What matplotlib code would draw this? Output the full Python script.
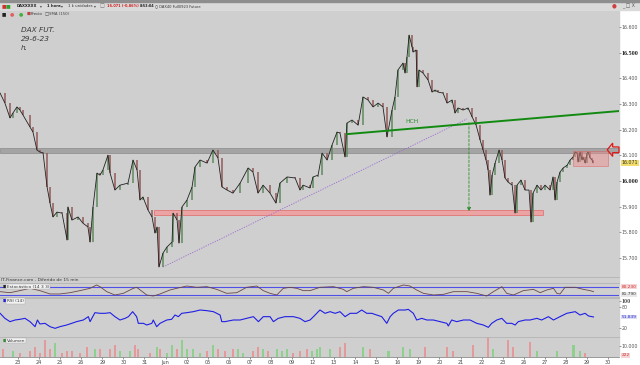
import numpy as np
import matplotlib.pyplot as plt
from matplotlib.patches import Rectangle, FancyArrow
from matplotlib.transforms import blended_transform_factory

# x axis unit = trading day, 0 = 23 May (hourly DAX future)
day_labels = ['23', '24', '25', '26', '29', '30', '31', 'Jun', '02', '05', '06', '07', '08', '09',
              '12', '13', '14', '15', '16', '19', '20', '21', '22', '23', '26', '27', '28', '29', '30']

price_t = [-0.85, -0.62, -0.38, -0.24, -0.05, 0.09, 0.24, 0.57, 0.71, 0.90, 1.04, 1.19, 1.38, 1.52,
           1.66, 1.85, 2.09, 2.33, 2.37, 2.56, 2.85, 3.08, 3.32, 3.42, 3.56, 3.75, 3.89, 4.03, 4.27,
           4.37, 4.60, 4.84, 5.22, 5.46, 5.65, 5.79, 5.93, 6.17, 6.36, 6.50, 6.60, 6.69, 6.88, 7.07,
           7.31, 7.36, 7.55, 7.64, 7.78, 8.02, 8.26, 8.40, 8.64, 8.97, 9.25, 9.49, 9.68, 9.92, 10.20,
           10.54, 10.92, 11.15, 11.39, 11.63, 11.96, 12.24, 12.43, 12.77, 13.15, 13.38, 13.53, 13.86,
           14.00, 14.24, 14.43, 14.67, 14.90, 15.14, 15.28, 15.52, 15.61, 15.85, 16.14, 16.37, 16.61,
           16.85, 17.09, 17.32, 17.51, 17.75, 17.89, 18.03, 18.27, 18.37, 18.46, 18.56, 18.70, 18.75,
           18.89, 18.94, 19.03, 19.22, 19.46, 19.65, 19.79, 19.93, 20.17, 20.36, 20.60, 20.74, 20.88,
           21.12, 21.36, 21.55, 21.74, 21.93, 22.07, 22.21, 22.31, 22.40, 22.50, 22.64, 22.83, 22.97,
           23.11, 23.26, 23.45, 23.59, 23.68, 23.87, 24.06, 24.25, 24.35, 24.44, 24.63, 24.82, 25.01,
           25.25, 25.39, 25.49, 25.58, 25.72, 25.87, 26.06, 26.20, 26.34, 26.44, 26.53, 26.58, 26.67,
           26.77, 26.81, 26.92, 27.01, 27.05, 27.15, 27.24, 27.29]
price = [16343, 16304, 16246, 16265, 16289, 16277, 16257, 16211, 16191, 16121, 16113, 16109, 15977, 15914,
         15860, 15879, 15875, 15770, 15899, 15848, 15860, 15836, 15821, 15762, 15899, 16031, 16023, 16043, 16101,
         16031, 15965, 15984, 15992, 16082, 16043, 15926, 15938, 15887, 15860, 15797, 15821, 15665, 15719, 15743,
         15762, 15875, 15848, 15758, 15899, 15926, 15977, 16055, 16082, 16070, 16121, 16090, 15977, 15965, 15953,
         15992, 16051, 16035, 15953, 15984, 15953, 15914, 15992, 16016, 16012, 15965, 15984, 15973,
         16016, 16023, 16109, 16082, 16140, 16191, 16187, 16094, 16226, 16238, 16218, 16328, 16316,
         16289, 16304, 16289, 16172, 16277, 16328, 16433, 16460, 16421, 16484, 16569, 16523, 16503,
         16511, 16367, 16433, 16421, 16394, 16347, 16355, 16347, 16343, 16304, 16316, 16265, 16285,
         16277, 16285, 16250, 16218, 16160, 16121, 16082, 16043, 15945, 16023, 16070, 16121, 16082,
         16012, 15996, 15984, 15875, 15984, 16004, 15965, 15965, 15840, 15953, 15984, 15965, 15984,
         15965, 16016, 15926, 15996, 16035, 16051, 16062, 16082, 16094, 16113, 16109, 16074, 16113,
         16082, 16094, 16070, 16109, 16113, 16090, 16082, 16071]

stoch_t = [-0.85, -0.38, 0.09, 0.57, 1.04, 1.52, 1.99, 2.47, 2.94, 3.42, 3.73, 3.89, 4.21, 4.60, 5.00,
           5.47, 5.63, 6.11, 6.42, 6.74, 7.21, 7.53, 8.01, 8.48, 8.96, 9.43, 9.90, 10.38, 10.85, 11.33,
           11.64, 11.96, 12.28, 12.59, 12.91, 13.23, 13.54, 13.86, 14.18, 14.33, 14.97, 15.44, 15.60,
           15.91, 16.39, 16.86, 17.34, 17.58, 17.81, 18.29, 18.60, 18.92, 19.24, 19.71, 20.19, 20.66,
           21.30, 21.77, 22.24, 22.56, 22.96, 23.19, 23.51, 23.98, 24.46, 24.78, 25.09, 25.41, 25.57,
           25.72, 25.96, 26.44, 26.83, 27.15, 27.31]
stoch = [46, 38, 54, 72, 54, 28, 28, 38, 54, 72, 98, 85, 46, 20, 33,
         72, 80, 20, 12, 28, 59, 72, 90, 80, 85, 64, 33, 38, 80, 90,
         54, 33, 20, 72, 80, 72, 54, 54, 72, 80, 85, 64, 46,
         72, 85, 80, 59, 33, 72, 98, 90, 59, 33, 20, 25, 46,
         46, 33, 12, 46, 85, 33, 20, 54, 64, 38, 59, 72, 33,
         28, 80, 80, 64, 54, 46]

rsi_t = [-0.85, -0.62, -0.38, -0.14, 0.09, 0.33, 0.57, 0.81, 0.92, 1.04, 1.28, 1.52, 1.76, 1.99, 2.31,
         2.55, 2.78, 3.10, 3.34, 3.42, 3.65, 3.89, 4.13, 4.37, 4.60, 4.84, 5.08, 5.24, 5.44, 5.63, 5.71,
         5.95, 6.11, 6.35, 6.42, 6.58, 6.74, 6.90, 7.06, 7.29, 7.45, 7.61, 7.77, 8.01, 8.32, 8.64, 8.96,
         9.27, 9.43, 9.59, 9.67, 9.82, 10.22, 10.54, 10.85, 11.17, 11.41, 11.64, 11.96, 12.12, 12.35,
         12.67, 13.07, 13.38, 13.62, 13.86, 14.10, 14.25, 14.33, 14.57, 14.81, 15.05, 15.28, 15.52,
         15.76, 16.07, 16.31, 16.55, 16.79, 17.02, 17.26, 17.50, 17.66, 17.81, 18.05, 18.37, 18.52,
         18.76, 18.92, 19.16, 19.40, 19.71, 20.03, 20.35, 20.42, 20.58, 20.82, 21.14, 21.45, 21.77,
         22.08, 22.32, 22.48, 22.72, 22.96, 23.19, 23.43, 23.59, 23.74, 24.06, 24.30, 24.62, 24.85,
         25.17, 25.41, 25.72, 26.04, 26.44, 26.67, 26.91, 27.07, 27.31]
rsi = [62.6, 47.7, 37.9, 42.8, 44.8, 47.7, 37.9, 23.0, 42.8, 31.0, 32.9, 23.0, 18.1, 23.0, 28.0,
       32.9, 37.9, 42.8, 52.7, 37.9, 64.5, 62.6, 62.6, 64.5, 52.7, 42.8, 47.7, 52.7, 67.5, 52.7, 32.9,
       32.9, 28.0, 32.9, 42.8, 23.0, 32.9, 37.9, 42.8, 44.8, 57.6, 52.7, 62.6, 64.5, 67.5, 72.4, 70.5,
       67.5, 62.6, 57.6, 37.9, 37.9, 42.8, 42.8, 47.7, 52.7, 37.9, 52.7, 52.7, 37.9, 47.7,
       52.7, 52.7, 47.7, 37.9, 42.8, 57.6, 67.5, 72.4, 62.6, 67.5, 62.6, 67.5, 52.7,
       62.6, 62.6, 72.4, 62.6, 62.6, 57.6, 52.7, 32.9, 52.7, 62.6, 72.4, 72.4, 74.4,
       62.6, 42.8, 47.7, 42.8, 42.8, 37.9, 32.9, 25.0, 42.8, 37.9, 42.8, 42.8, 32.9,
       28.0, 21.0, 32.9, 42.8, 47.7, 32.9, 32.9, 28.0, 37.9, 42.8, 42.8, 47.7, 42.8,
       52.7, 42.8, 52.7, 62.6, 67.5, 57.6, 62.6, 54.7, 51.8]

vol_t = [-0.70, -0.22, 0.09, 0.57, 0.81, 1.04, 1.28, 1.52, 1.76, 2.07, 2.31, 2.55, 2.94, 3.29, 3.65,
         3.89, 4.37, 4.60, 4.84, 5.32, 5.55, 5.71, 6.26, 6.58, 6.74, 7.06, 7.29, 7.53, 7.77, 8.01,
         8.32, 8.64, 8.96, 9.27, 9.51, 9.82, 10.22, 10.46, 10.69, 11.17, 11.41, 11.64, 11.88, 12.28,
         12.51, 12.75, 13.07, 13.38, 13.70, 13.94, 14.18, 14.33, 14.81, 15.28, 15.52, 16.39, 16.71,
         17.58, 18.29, 18.60, 19.32, 20.35, 20.66, 21.61, 22.32, 22.56, 23.27, 23.51, 24.30, 24.62,
         25.57, 26.36, 26.67, 26.91]
vol = [7300, 5700, 4000, 5700, 9000, 4000, 15700, 7300, 12300, 4000, 5700, 5700, 4000, 9000, 7300,
       7300, 7300, 10700, 5700, 5700, 10700, 7300, 4000, 9000, 7300, 4000, 10700, 7300, 15700, 7300,
       7300, 4000, 5700, 10700, 7300, 5700, 7300, 7300, 4000, 5700, 9000, 7300, 5700, 7300,
       5700, 7300, 4000, 5700, 7300, 5700, 7300, 9000, 7300, 9000, 12300, 9000, 7300,
       5700, 9000, 7300, 9000, 9000, 5700, 10700, 18000, 7300, 15700, 9000, 14000, 5700,
       5700, 10700, 5700, 4000]

# drawing-tool objects on the chart
hch_t, hch_p = [15.61, 28.52], [16183, 16273]
trend_t, trend_p = [6.88, 21.30], [15665, 16242]
target_t, target_from, target_to = 21.40, 16228, 15882
res_band = (16108, 16128)
sup_band = (6.45, 24.90, 15868, 15888)
box_zone = (26.34, 28.00, 16058, 16117)
last_price = 16071

W, H = 640, 365
GRAY = '#cfcfcf'
XL = (-0.854, 28.52)


def frac(x0, y0, x1, y1):
    return [x0 / W, 1 - y1 / H, (x1 - x0) / W, (y1 - y0) / H]


def px(x, y):
    return x / W, 1 - y / H


fig = plt.figure(figsize=(6.4, 3.65), dpi=100)
fig.patch.set_facecolor('white')
fig.add_artist(Rectangle(px(0, 357), 619 / W, 347 / H, transform=fig.transFigure,
                         color=GRAY, zorder=-5))
fig.add_artist(Rectangle(px(0, 10), 1, 8 / H, transform=fig.transFigure, color='#dadada', zorder=-4))
fig.add_artist(Rectangle(px(0, 2), 1, 2 / H, transform=fig.transFigure, color='#8e8e8e', zorder=-4))
fig.add_artist(Rectangle(px(0, 365), 1, 8 / H, transform=fig.transFigure, color='white', zorder=-4))


def style(ax):
    ax.set_facecolor(GRAY)
    ax.set_xlim(*XL)
    ax.yaxis.tick_right()
    ax.tick_params(axis='y', length=1.5, width=0.4, colors='#555', labelsize=3.4, pad=0.6)
    ax.tick_params(axis='x', length=0, labelbottom=False)
    for s in ('left', 'right'):
        ax.spines[s].set_visible(False)
    for s in ('top', 'bottom'):
        ax.spines[s].set_color('#b4b4b4')
        ax.spines[s].set_linewidth(0.6)


# ---------------- price panel ----------------
ax = fig.add_axes(frac(0, 11, 619, 277))
style(ax)
ax.spines['top'].set_visible(False)
ax.set_ylim(15626, 16663)
ticks = list(range(15700, 16700, 100))
ax.set_yticks(ticks, [f'{v:,}'.replace(',', '.') for v in ticks])
for lbl, v in zip(ax.get_yticklabels(), ticks):
    if v in (16000, 16500):
        lbl.set_fontsize(4.4)
        lbl.set_fontweight('bold')
        lbl.set_family('Liberation Serif')
        lbl.set_color('#222')

ax.axhspan(*res_band, facecolor='#a4a4a4', edgecolor='#8a8a8a', lw=0.5, zorder=1)
ax.add_patch(Rectangle((sup_band[0], sup_band[2]), sup_band[1] - sup_band[0], sup_band[3] - sup_band[2],
                       facecolor='#eba3a3', edgecolor='#e06a6a', lw=0.5, zorder=1))

p = np.array(price)
up = p[1:] >= p[:-1]
ax.vlines(price_t[1:], np.minimum(p[1:], p[:-1]), np.maximum(p[1:], p[:-1]),
          colors=np.where(up, '#5f8a5f', '#955a5a'), lw=1.1, zorder=3)
ax.plot(price_t, price, color='#222222', lw=0.6, zorder=4)

ax.add_patch(Rectangle((box_zone[0], box_zone[2]), box_zone[1] - box_zone[0], box_zone[3] - box_zone[2],
                       facecolor='#f08a8a', alpha=0.45, edgecolor='#e04a4a', lw=0.6, zorder=5))
ax.add_patch(FancyArrow(XL[1], 16122, -0.56, 0, width=22, head_width=52, head_length=0.26,
                        length_includes_head=True, fill=False, ec='#e01818', lw=0.9, zorder=6,
                        clip_on=False))
ax.plot(hch_t, hch_p, color='#128a12', lw=1.4, zorder=5)
ax.text(18.7, 16232, 'HCH', color='#2e8b2e', fontsize=4.3, ha='center', va='center')
ax.plot(trend_t, trend_p, color='#9a6ad0', lw=0.6, ls=(0, (1.5, 1.5)), zorder=2)
ax.annotate('', xy=(target_t, target_to), xytext=(target_t, target_from),
            arrowprops=dict(arrowstyle='-|>', ls=(0, (3, 2)), color='#2e8b2e', lw=0.6,
                            mutation_scale=5, shrinkA=0, shrinkB=0), zorder=5)

bt = blended_transform_factory(ax.transAxes, ax.transData)
ax.text(1.004, last_price, f'{last_price:,}'.replace(',', '.'), transform=bt, fontsize=3.4,
        va='center', ha='left', color='#333',
        bbox=dict(boxstyle='square,pad=0.15', fc='#f2dc6a', ec='none'))

for i, s in enumerate(['DAX FUT.', '29-6-23', 'h.']):
    fig.text(*px(21, 30 + 9 * i), s, fontsize=5.3, style='italic', color='#3a3a3a', va='center')

# ---------------- stochastic panel ----------------
ax_st = fig.add_axes(frac(0, 283, 619, 297))
style(ax_st)
ax_st.set_ylim(4.4, 113.5)
ax_st.set_yticks([])
ax_st.axhline(80, color='#5050e8', lw=0.8, zorder=1)
ax_st.axhline(20, color='#5050e8', lw=0.8, zorder=1)
ax_st.plot(stoch_t, stoch, color='#6a4646', lw=0.6, zorder=2)
bt = blended_transform_factory(ax_st.transAxes, ax_st.transData)
ax_st.text(1.004, 84, '80.230', transform=bt, fontsize=3.1, va='center', color='#d03030',
           bbox=dict(boxstyle='square,pad=0.1', fc='#f4d4d4', ec='none'))
ax_st.text(1.004, 24, '81.790', transform=bt, fontsize=3.1, va='center', color='#333',
           bbox=dict(boxstyle='square,pad=0.1', fc='#e8e8e8', ec='none'))

# ---------------- RSI panel ----------------
ax_r = fig.add_axes(frac(0, 298, 619, 337))
style(ax_r)
ax_r.set_ylim(-7.6, 108)
ax_r.set_yticks([100, 80, 20], ['100', '80', '20'])
ax_r.get_yticklabels()[0].set_fontweight('bold')
ax_r.get_yticklabels()[0].set_fontsize(4.4)
ax_r.get_yticklabels()[0].set_family('Liberation Serif')
ax_r.plot(rsi_t, rsi, color='#1f1fe6', lw=0.8)
bt = blended_transform_factory(ax_r.transAxes, ax_r.transData)
ax_r.text(1.004, 51.8, '51.839', transform=bt, fontsize=3.1, va='center', color='#2222cc',
          bbox=dict(boxstyle='square,pad=0.1', fc='#dcdcf4', ec='none'))

# ---------------- volume panel ----------------
ax_v = fig.add_axes(frac(0, 337, 619, 357))
style(ax_v)
ax_v.spines['bottom'].set_color('#888')
ax_v.set_ylim(0, 18200)
ax_v.set_yticks([10000], ['10.000'])
vol_up = np.interp(vol_t, price_t, price) >= np.interp(np.array(vol_t) - 0.1, price_t, price)
ax_v.bar(vol_t, vol, width=0.1, color=np.where(vol_up, '#8fd08f', '#e49a9a'), lw=0)
bt = blended_transform_factory(ax_v.transAxes, ax_v.transData)
ax_v.text(1.004, 1500, '222', transform=bt, fontsize=3.1, va='center', color='#d03030',
          bbox=dict(boxstyle='square,pad=0.1', fc='#f4d4d4', ec='none'))
ax_v.set_xticks(range(len(day_labels)), day_labels)
ax_v.tick_params(axis='x', length=1.5, width=0.4, colors='#444', labelsize=3.5, pad=1,
                 labelbottom=True)

# panel captions
fig.text(*px(1, 280), 'IT-Finance.com - Diferido de 15 min', fontsize=3.2, color='#333', va='center')
for y, s, c in [(286.5, 'Estocástico (14 3 3)', '#222'), (301, 'RSI (14)', '#2222dd'),
                (340.5, 'Volumen', '#3a8a3a')]:
    fig.text(*px(3, y), '\u25a0', fontsize=3, color=c, va='center')
    fig.text(*px(7, y), s, fontsize=3.1, color='#333', va='center',
             bbox=dict(boxstyle='square,pad=0.15', fc='#f2f2f2', ec='#aaa', lw=0.3))

# ---------------- toolbar ----------------
fig.text(*px(2, 6), '\u25a0', fontsize=3.6, color='#d03030', va='center')
fig.text(*px(6, 6), '\u25a0', fontsize=3.6, color='#30a030', va='center')
items = [(17, 'DAXXXXX', '#222', 'bold', 2.7), (40, '\u25be', '#444', 'normal', 2.7),
         (47, '1 hora', '#222', 'bold', 2.7), (61, '\u25be', '#444', 'normal', 2.7),
         (68, '1 k unidades', '#333', 'normal', 2.7), (94, '\u25be', '#444', 'normal', 2.7),
         (107, '16.071 (-0,86%)', '#d02020', 'bold', 2.5), (140, '8:53:04', '#222', 'bold', 2.5),
         (155, '\u25cb DAX40 Full0923 Future', '#333', 'normal', 2.6)]
for x, s, c, w, fs in items:
    fig.text(*px(x, 6), s, fontsize=fs, color=c, fontweight=w, va='center')
fig.text(*px(100, 6), '\u25a1', fontsize=3.5, color='#666', va='center')
fig.text(*px(622, 5.5), '_ \u25a1 X', fontsize=3.3, color='#555', va='center')
fig.text(*px(612, 6), '\u25cf', fontsize=4, color='#d04040', va='center')
fig.text(*px(2, 14), '\u25a0', fontsize=3.3, color='#222', va='center')
fig.text(*px(10, 14), '\u25cf', fontsize=3.6, color='#e06060', va='center')
fig.text(*px(19, 14), '\u25cf', fontsize=3.6, color='#40b040', va='center')
fig.text(*px(27, 14), '\u25a0', fontsize=3, color='#c04040', va='center')
fig.text(*px(31, 14), 'Precio', fontsize=2.8, color='#333', va='center')
fig.text(*px(45, 14), '\u25a1', fontsize=3.2, color='#444', va='center')
fig.text(*px(49, 14), 'SMA (150)', fontsize=2.8, color='#444', va='center')

fig.savefig('out.png', dpi=100)
